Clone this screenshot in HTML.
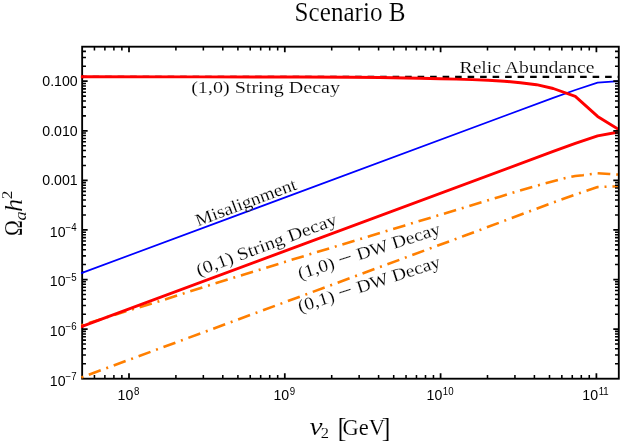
<!DOCTYPE html>
<html><head><meta charset="utf-8"><title>Scenario B</title>
<style>
html,body{margin:0;padding:0;background:#fff;}
body{width:622px;height:443px;overflow:hidden;font-family:"Liberation Sans",sans-serif;}
svg{display:block;will-change:transform;}
.tk{font-family:"Liberation Sans",sans-serif;font-size:13.5px;fill:#000;}
.sp{font-family:"Liberation Sans",sans-serif;font-size:9.5px;fill:#000;}
.cm{font-family:"Liberation Serif",serif;fill:#000;stroke:#fff;stroke-width:0.15px;}
</style></head><body>
<svg width="622" height="443" viewBox="0 0 622 443">
<rect x="0" y="0" width="622" height="443" fill="#ffffff"/>
<defs><clipPath id="cp"><rect x="80.95" y="46.7" width="537.85" height="332.8"/></clipPath></defs>

<g clip-path="url(#cp)" fill="none" stroke-linejoin="round">
<path d="M67.6,76.8 L620,76.8" stroke="#000" stroke-width="2.2" stroke-dasharray="6.6 5.9" stroke-dashoffset="0"/>
<path d="M80.70,273.36 L553.20,97.90 L575.30,90.00 L597.60,82.60 L618.80,81.20" stroke="#0000ff" stroke-width="1.7"/>
<path d="M80.70,325.55 L82.20,325.10 L91.30,322.30 L125.20,311.40 L152.20,303.50 L215.00,283.40 L310.40,254.10 L405.00,225.40 L500.00,196.70 L519.60,190.60 L539.30,185.00 L553.20,181.30 L563.80,178.40 L575.30,176.00 L582.90,175.20 L589.90,174.30 L597.60,173.30 L609.40,174.00 L618.80,174.60" stroke="#ff7f00" stroke-width="2.6" stroke-dasharray="12.7 5.9 2 5.93" stroke-dashoffset="17.85"/>
<path d="M80.70,377.76 L82.20,377.20 L88.80,374.70 L274.90,305.90 L465.10,235.50 L553.20,202.50 L575.30,194.50 L597.60,187.10 L618.80,186.20" stroke="#ff7f00" stroke-width="2.6" stroke-dasharray="12.7 5.9 2 5.93" stroke-dashoffset="17.85"/>
<path d="M80.70,326.86 L553.20,151.40 L575.30,143.40 L597.60,135.90 L618.80,132.00" stroke="#ff0000" stroke-width="2.9"/>
<path d="M80.70,76.80 L200.00,76.90 L300.00,77.05 L350.00,77.30 L380.00,77.45 L420.00,78.20 L440.00,78.80 L456.10,79.10 L472.20,79.60 L488.20,80.20 L504.30,81.20 L520.40,82.80 L536.50,84.70 L553.20,88.50 L575.30,96.40 L597.60,116.40 L618.80,129.60" stroke="#ff0000" stroke-width="2.9"/>
</g>
<g stroke="#000" fill="none"><path d="M94.44,378.70 v-3.80 M94.44,46.70 v3.80" stroke-width="1.55"/><path d="M104.87,378.70 v-3.80 M104.87,46.70 v3.80" stroke-width="1.55"/><path d="M113.90,378.70 v-3.80 M113.90,46.70 v3.80" stroke-width="1.55"/><path d="M121.87,378.70 v-3.80 M121.87,46.70 v3.80" stroke-width="1.55"/><path d="M129.00,378.70 v-5.50 M129.00,46.70 v5.50" stroke-width="1.75"/><path d="M175.90,378.70 v-3.80 M175.90,46.70 v3.80" stroke-width="1.55"/><path d="M203.34,378.70 v-3.80 M203.34,46.70 v3.80" stroke-width="1.55"/><path d="M222.80,378.70 v-3.80 M222.80,46.70 v3.80" stroke-width="1.55"/><path d="M237.90,378.70 v-3.80 M237.90,46.70 v3.80" stroke-width="1.55"/><path d="M250.24,378.70 v-3.80 M250.24,46.70 v3.80" stroke-width="1.55"/><path d="M260.67,378.70 v-3.80 M260.67,46.70 v3.80" stroke-width="1.55"/><path d="M269.70,378.70 v-3.80 M269.70,46.70 v3.80" stroke-width="1.55"/><path d="M277.67,378.70 v-3.80 M277.67,46.70 v3.80" stroke-width="1.55"/><path d="M284.80,378.70 v-5.50 M284.80,46.70 v5.50" stroke-width="1.75"/><path d="M331.70,378.70 v-3.80 M331.70,46.70 v3.80" stroke-width="1.55"/><path d="M359.14,378.70 v-3.80 M359.14,46.70 v3.80" stroke-width="1.55"/><path d="M378.60,378.70 v-3.80 M378.60,46.70 v3.80" stroke-width="1.55"/><path d="M393.70,378.70 v-3.80 M393.70,46.70 v3.80" stroke-width="1.55"/><path d="M406.04,378.70 v-3.80 M406.04,46.70 v3.80" stroke-width="1.55"/><path d="M416.47,378.70 v-3.80 M416.47,46.70 v3.80" stroke-width="1.55"/><path d="M425.50,378.70 v-3.80 M425.50,46.70 v3.80" stroke-width="1.55"/><path d="M433.47,378.70 v-3.80 M433.47,46.70 v3.80" stroke-width="1.55"/><path d="M440.60,378.70 v-5.50 M440.60,46.70 v5.50" stroke-width="1.75"/><path d="M487.50,378.70 v-3.80 M487.50,46.70 v3.80" stroke-width="1.55"/><path d="M514.94,378.70 v-3.80 M514.94,46.70 v3.80" stroke-width="1.55"/><path d="M534.40,378.70 v-3.80 M534.40,46.70 v3.80" stroke-width="1.55"/><path d="M549.50,378.70 v-3.80 M549.50,46.70 v3.80" stroke-width="1.55"/><path d="M561.84,378.70 v-3.80 M561.84,46.70 v3.80" stroke-width="1.55"/><path d="M572.27,378.70 v-3.80 M572.27,46.70 v3.80" stroke-width="1.55"/><path d="M581.30,378.70 v-3.80 M581.30,46.70 v3.80" stroke-width="1.55"/><path d="M589.27,378.70 v-3.80 M589.27,46.70 v3.80" stroke-width="1.55"/><path d="M596.40,378.70 v-5.50 M596.40,46.70 v5.50" stroke-width="1.75"/><path d="M82.15,363.75 h3.80 M618.80,363.75 h-3.80" stroke-width="1.55"/><path d="M82.15,355.02 h3.80 M618.80,355.02 h-3.80" stroke-width="1.55"/><path d="M82.15,348.83 h3.80 M618.80,348.83 h-3.80" stroke-width="1.55"/><path d="M82.15,344.03 h3.80 M618.80,344.03 h-3.80" stroke-width="1.55"/><path d="M82.15,340.10 h3.80 M618.80,340.10 h-3.80" stroke-width="1.55"/><path d="M82.15,336.78 h3.80 M618.80,336.78 h-3.80" stroke-width="1.55"/><path d="M82.15,333.90 h3.80 M618.80,333.90 h-3.80" stroke-width="1.55"/><path d="M82.15,331.37 h3.80 M618.80,331.37 h-3.80" stroke-width="1.55"/><path d="M82.15,329.10 h5.50 M618.80,329.10 h-5.50" stroke-width="1.75"/><path d="M82.15,314.17 h3.80 M618.80,314.17 h-3.80" stroke-width="1.55"/><path d="M82.15,305.44 h3.80 M618.80,305.44 h-3.80" stroke-width="1.55"/><path d="M82.15,299.25 h3.80 M618.80,299.25 h-3.80" stroke-width="1.55"/><path d="M82.15,294.45 h3.80 M618.80,294.45 h-3.80" stroke-width="1.55"/><path d="M82.15,290.52 h3.80 M618.80,290.52 h-3.80" stroke-width="1.55"/><path d="M82.15,287.20 h3.80 M618.80,287.20 h-3.80" stroke-width="1.55"/><path d="M82.15,284.32 h3.80 M618.80,284.32 h-3.80" stroke-width="1.55"/><path d="M82.15,281.79 h3.80 M618.80,281.79 h-3.80" stroke-width="1.55"/><path d="M82.15,279.52 h5.50 M618.80,279.52 h-5.50" stroke-width="1.75"/><path d="M82.15,264.59 h3.80 M618.80,264.59 h-3.80" stroke-width="1.55"/><path d="M82.15,255.86 h3.80 M618.80,255.86 h-3.80" stroke-width="1.55"/><path d="M82.15,249.67 h3.80 M618.80,249.67 h-3.80" stroke-width="1.55"/><path d="M82.15,244.87 h3.80 M618.80,244.87 h-3.80" stroke-width="1.55"/><path d="M82.15,240.94 h3.80 M618.80,240.94 h-3.80" stroke-width="1.55"/><path d="M82.15,237.62 h3.80 M618.80,237.62 h-3.80" stroke-width="1.55"/><path d="M82.15,234.74 h3.80 M618.80,234.74 h-3.80" stroke-width="1.55"/><path d="M82.15,232.21 h3.80 M618.80,232.21 h-3.80" stroke-width="1.55"/><path d="M82.15,229.94 h5.50 M618.80,229.94 h-5.50" stroke-width="1.75"/><path d="M82.15,215.01 h3.80 M618.80,215.01 h-3.80" stroke-width="1.55"/><path d="M82.15,206.28 h3.80 M618.80,206.28 h-3.80" stroke-width="1.55"/><path d="M82.15,200.09 h3.80 M618.80,200.09 h-3.80" stroke-width="1.55"/><path d="M82.15,195.29 h3.80 M618.80,195.29 h-3.80" stroke-width="1.55"/><path d="M82.15,191.36 h3.80 M618.80,191.36 h-3.80" stroke-width="1.55"/><path d="M82.15,188.04 h3.80 M618.80,188.04 h-3.80" stroke-width="1.55"/><path d="M82.15,185.16 h3.80 M618.80,185.16 h-3.80" stroke-width="1.55"/><path d="M82.15,182.63 h3.80 M618.80,182.63 h-3.80" stroke-width="1.55"/><path d="M82.15,180.36 h5.50 M618.80,180.36 h-5.50" stroke-width="1.75"/><path d="M82.15,165.43 h3.80 M618.80,165.43 h-3.80" stroke-width="1.55"/><path d="M82.15,156.70 h3.80 M618.80,156.70 h-3.80" stroke-width="1.55"/><path d="M82.15,150.51 h3.80 M618.80,150.51 h-3.80" stroke-width="1.55"/><path d="M82.15,145.71 h3.80 M618.80,145.71 h-3.80" stroke-width="1.55"/><path d="M82.15,141.78 h3.80 M618.80,141.78 h-3.80" stroke-width="1.55"/><path d="M82.15,138.46 h3.80 M618.80,138.46 h-3.80" stroke-width="1.55"/><path d="M82.15,135.58 h3.80 M618.80,135.58 h-3.80" stroke-width="1.55"/><path d="M82.15,133.05 h3.80 M618.80,133.05 h-3.80" stroke-width="1.55"/><path d="M82.15,130.78 h5.50 M618.80,130.78 h-5.50" stroke-width="1.75"/><path d="M82.15,115.85 h3.80 M618.80,115.85 h-3.80" stroke-width="1.55"/><path d="M82.15,107.12 h3.80 M618.80,107.12 h-3.80" stroke-width="1.55"/><path d="M82.15,100.93 h3.80 M618.80,100.93 h-3.80" stroke-width="1.55"/><path d="M82.15,96.13 h3.80 M618.80,96.13 h-3.80" stroke-width="1.55"/><path d="M82.15,92.20 h3.80 M618.80,92.20 h-3.80" stroke-width="1.55"/><path d="M82.15,88.88 h3.80 M618.80,88.88 h-3.80" stroke-width="1.55"/><path d="M82.15,86.00 h3.80 M618.80,86.00 h-3.80" stroke-width="1.55"/><path d="M82.15,83.47 h3.80 M618.80,83.47 h-3.80" stroke-width="1.55"/><path d="M82.15,81.20 h5.50 M618.80,81.20 h-5.50" stroke-width="1.75"/><path d="M82.15,66.27 h3.80 M618.80,66.27 h-3.80" stroke-width="1.55"/><path d="M82.15,57.54 h3.80 M618.80,57.54 h-3.80" stroke-width="1.55"/><path d="M82.15,51.35 h3.80 M618.80,51.35 h-3.80" stroke-width="1.55"/></g>
<rect x="82.15" y="46.7" width="536.65" height="332" fill="none" stroke="#000" stroke-width="1.85"/>
<defs><clipPath id="cp2"><rect x="80.95" y="46.7" width="3" height="332"/></clipPath></defs>
<g clip-path="url(#cp2)" fill="none" stroke-linejoin="round">
<path d="M67.6,76.8 L620,76.8" stroke="#000" stroke-width="2.2" stroke-dasharray="6.6 5.9" stroke-dashoffset="0"/>
<path d="M80.70,273.36 L553.20,97.90 L575.30,90.00 L597.60,82.60 L618.80,81.20" stroke="#0000ff" stroke-width="1.7"/>
<path d="M80.70,325.55 L82.20,325.10 L91.30,322.30 L125.20,311.40 L152.20,303.50 L215.00,283.40 L310.40,254.10 L405.00,225.40 L500.00,196.70 L519.60,190.60 L539.30,185.00 L553.20,181.30 L563.80,178.40 L575.30,176.00 L582.90,175.20 L589.90,174.30 L597.60,173.30 L609.40,174.00 L618.80,174.60" stroke="#ff7f00" stroke-width="2.6" stroke-dasharray="12.7 5.9 2 5.93" stroke-dashoffset="17.85"/>
<path d="M80.70,377.76 L82.20,377.20 L88.80,374.70 L274.90,305.90 L465.10,235.50 L553.20,202.50 L575.30,194.50 L597.60,187.10 L618.80,186.20" stroke="#ff7f00" stroke-width="2.6" stroke-dasharray="12.7 5.9 2 5.93" stroke-dashoffset="17.85"/>
<path d="M80.70,326.86 L553.20,151.40 L575.30,143.40 L597.60,135.90 L618.80,132.00" stroke="#ff0000" stroke-width="2.9"/>
<path d="M80.70,76.80 L200.00,76.90 L300.00,77.05 L350.00,77.30 L380.00,77.45 L420.00,78.20 L440.00,78.80 L456.10,79.10 L472.20,79.60 L488.20,80.20 L504.30,81.20 L520.40,82.80 L536.50,84.70 L553.20,88.50 L575.30,96.40 L597.60,116.40 L618.80,129.60" stroke="#ff0000" stroke-width="2.9"/>
</g>
<text transform="translate(42.33,86.30) scale(0.95,1)" font-family="Liberation Sans, sans-serif" font-size="14.9" fill="#000">0.100</text>
<text transform="translate(42.33,135.88) scale(0.95,1)" font-family="Liberation Sans, sans-serif" font-size="14.9" fill="#000">0.010</text>
<text transform="translate(42.33,185.46) scale(0.95,1)" font-family="Liberation Sans, sans-serif" font-size="14.9" fill="#000">0.001</text>
<text transform="translate(49.85,236.84) scale(0.95,1)" font-family="Liberation Sans, sans-serif" font-size="14.9" fill="#000">10</text>
<text transform="translate(65.49,231.14) scale(0.97,1)" font-family="Liberation Sans, sans-serif" font-size="10" fill="#000">−4</text>
<text transform="translate(49.85,286.42) scale(0.95,1)" font-family="Liberation Sans, sans-serif" font-size="14.9" fill="#000">10</text>
<text transform="translate(65.49,280.72) scale(0.97,1)" font-family="Liberation Sans, sans-serif" font-size="10" fill="#000">−5</text>
<text transform="translate(49.85,336.00) scale(0.95,1)" font-family="Liberation Sans, sans-serif" font-size="14.9" fill="#000">10</text>
<text transform="translate(65.49,330.30) scale(0.97,1)" font-family="Liberation Sans, sans-serif" font-size="10" fill="#000">−6</text>
<text transform="translate(49.85,385.58) scale(0.95,1)" font-family="Liberation Sans, sans-serif" font-size="14.9" fill="#000">10</text>
<text transform="translate(65.49,379.88) scale(0.97,1)" font-family="Liberation Sans, sans-serif" font-size="10" fill="#000">−7</text>
<text transform="translate(117.62,400.20) scale(0.95,1)" font-family="Liberation Sans, sans-serif" font-size="14.9" fill="#000">10</text>
<text transform="translate(133.96,394.50) scale(0.97,1)" font-family="Liberation Sans, sans-serif" font-size="10" fill="#000">8</text>
<text transform="translate(273.42,400.20) scale(0.95,1)" font-family="Liberation Sans, sans-serif" font-size="14.9" fill="#000">10</text>
<text transform="translate(289.76,394.50) scale(0.97,1)" font-family="Liberation Sans, sans-serif" font-size="10" fill="#000">9</text>
<text transform="translate(426.52,400.20) scale(0.95,1)" font-family="Liberation Sans, sans-serif" font-size="14.9" fill="#000">10</text>
<text transform="translate(442.86,394.50) scale(0.97,1)" font-family="Liberation Sans, sans-serif" font-size="10" fill="#000">10</text>
<text transform="translate(582.32,400.20) scale(0.95,1)" font-family="Liberation Sans, sans-serif" font-size="14.9" fill="#000">10</text>
<text transform="translate(598.66,394.50) scale(0.97,1)" font-family="Liberation Sans, sans-serif" font-size="10" fill="#000">11</text>
<text class="cm" x="294.6" y="20.7" font-size="27" textLength="111" lengthAdjust="spacingAndGlyphs">Scenario B</text>
<text class="cm" x="309.6" y="434.9" font-size="25" font-style="italic" textLength="13" lengthAdjust="spacingAndGlyphs">v</text>
<text class="cm" style="stroke-width:0.1px" x="320.8" y="438.1" font-size="14" textLength="8.2" lengthAdjust="spacingAndGlyphs">2</text>
<text class="cm" x="337.4" y="436.9" font-size="26.5">[</text>
<text class="cm" x="342.4" y="434.9" font-size="24" textLength="42.6" lengthAdjust="spacingAndGlyphs">GeV</text>
<text class="cm" x="381.8" y="436.9" font-size="26.5">]</text>
<g transform="translate(22.2,235.5) rotate(-90)">
<text class="cm" x="-0.4" y="0" font-size="25.5" textLength="15.8" lengthAdjust="spacingAndGlyphs">Ω</text>
<text class="cm" style="stroke-width:0.1px" x="15.0" y="3.3" font-size="17.5" font-style="italic" textLength="9.2" lengthAdjust="spacingAndGlyphs">a</text>
<text class="cm" x="23.4" y="0" font-size="25.5" font-style="italic" textLength="13.2" lengthAdjust="spacingAndGlyphs">h</text>
<text class="cm" style="stroke-width:0.1px" x="36.3" y="-9.8" font-size="15.5" textLength="8.6" lengthAdjust="spacingAndGlyphs">2</text>
</g>
<text class="cm" x="191.2" y="93.3" font-size="17.7" textLength="148.8" lengthAdjust="spacingAndGlyphs">(1,0) String Decay</text>
<text class="cm" x="459.5" y="73.1" font-size="17.7" textLength="135" lengthAdjust="spacingAndGlyphs">Relic Abundance</text>
<g transform="translate(198,226.4) rotate(-20.5)"><text class="cm" x="0" y="0" font-size="17.7" textLength="106.5" lengthAdjust="spacingAndGlyphs">Misalignment</text></g>
<g transform="translate(198.8,276.2) rotate(-20.5)"><text class="cm" x="0" y="0" font-size="17.7" textLength="148.8" lengthAdjust="spacingAndGlyphs">(0,1) String Decay</text></g>
<g transform="translate(300,279.6) rotate(-18)"><text class="cm" x="0" y="0" font-size="17.7" textLength="148.8" lengthAdjust="spacingAndGlyphs">(1,0) <tspan font-size="23" dy="1">−</tspan><tspan dy="-1"> </tspan>DW Decay</text></g>
<g transform="translate(300,312.6) rotate(-18)"><text class="cm" x="0" y="0" font-size="17.7" textLength="148.8" lengthAdjust="spacingAndGlyphs">(0,1) <tspan font-size="23" dy="1">−</tspan><tspan dy="-1"> </tspan>DW Decay</text></g>
</svg></body></html>
